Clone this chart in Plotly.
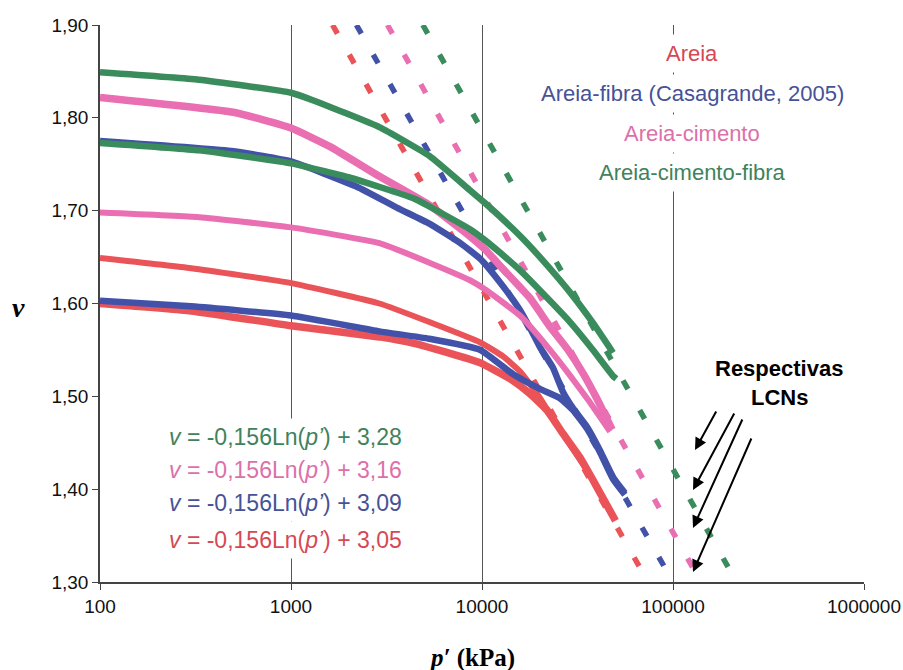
import plotly.graph_objects as go

# ---------------- data ----------------
# Areia (sand) - two tests
areia_a_p = [100, 300, 1000, 2900, 5300, 9800, 12900, 15800, 19400, 25600, 36800, 48000]
areia_a_v = [1.649, 1.638, 1.622, 1.600, 1.580, 1.558, 1.543, 1.527, 1.503, 1.464, 1.415, 1.372]
areia_b_p = [100, 300, 1000, 2900, 4400, 6600, 9800, 14500, 17800, 21900, 26500, 32600, 40000, 50000]
areia_b_v = [1.600, 1.592, 1.576, 1.564, 1.557, 1.547, 1.536, 1.517, 1.503, 1.485, 1.460, 1.434, 1.402, 1.366]

# Areia-fibra (Casagrande, 2005)
fibra_a_p = [100, 500, 1000, 2200, 3600, 5300, 7700, 9800, 12500, 15800, 18000, 20100, 23500, 26500,
             30000, 35500, 41400, 48500, 56000]
fibra_a_v = [1.775, 1.764, 1.753, 1.726, 1.703, 1.686, 1.665, 1.648, 1.622, 1.593, 1.572, 1.553, 1.531, 1.505,
             1.487, 1.467, 1.442, 1.413, 1.396]
fibra_b_p = [100, 300, 1000, 2900, 5300, 9800, 14500, 20100, 25600, 30000, 35500, 41400, 48500, 56000]
fibra_b_v = [1.603, 1.597, 1.587, 1.570, 1.562, 1.550, 1.524, 1.508, 1.498, 1.485, 1.465, 1.440, 1.411, 1.394]

# Areia-cimento
cimento_a_p = [100, 500, 1000, 1600, 2900, 5300, 8000, 10400, 12900, 17800, 22700, 28200, 34000, 40300, 48000]
cimento_a_v = [1.822, 1.806, 1.789, 1.769, 1.737, 1.706, 1.678, 1.658, 1.637, 1.606, 1.575, 1.550, 1.524, 1.496, 1.464]
cimento_b_p = [100, 330, 1000, 2900, 5300, 8650, 10400, 15800, 22700, 29000, 36000, 46800]
cimento_b_v = [1.698, 1.693, 1.682, 1.665, 1.644, 1.625, 1.615, 1.587, 1.550, 1.522, 1.496, 1.462]

# Areia-cimento-fibra
cf_a_p = [100, 330, 1000, 1300, 2900, 5300, 8650, 10400, 15800, 20100, 28900, 38100, 48500]
cf_a_v = [1.849, 1.841, 1.827, 1.819, 1.790, 1.759, 1.722, 1.708, 1.673, 1.650, 1.612, 1.579, 1.547]
cf_b_p = [100, 330, 1000, 2000, 4400, 8650, 10400, 12900, 15800, 20800, 28900, 38100, 48500, 50500]
cf_b_v = [1.773, 1.765, 1.751, 1.736, 1.713, 1.680, 1.668, 1.652, 1.636, 1.611, 1.580, 1.550, 1.522, 1.519]

# LCN lines as drawn in the picture: p' at v = 1.90 and at v = 1.30
lcn_v = [1.90, 1.30]
lcn_areia_p = [1650, 74000]
lcn_fibra_p = [2200, 100000]
lcn_cimento_p = [3200, 140000]
lcn_cf_p = [4900, 215000]

# labels
legend_labels = ["Areia", "Areia-fibra (Casagrande, 2005)", "Areia-cimento", "Areia-cimento-fibra"]
equation_labels = [
    "<i>v</i> = -0,156Ln(<i>p’</i>) + 3,28",
    "<i>v</i> = -0,156Ln(<i>p’</i>) + 3,16",
    "<i>v</i> = -0,156Ln(<i>p’</i>) + 3,09",
    "<i>v</i> = -0,156Ln(<i>p’</i>) + 3,05",
]
x_tickvals = [100, 1000, 10000, 100000, 1000000]
x_ticktext = ["100", "1000", "10000", "100000", "1000000"]
y_tickvals = [1.30, 1.40, 1.50, 1.60, 1.70, 1.80, 1.90]
y_ticktext = ["1,30", "1,40", "1,50", "1,60", "1,70", "1,80", "1,90"]

# ---------------- style ----------------
RED = "rgb(234,84,88)"
BLUE = "rgb(66,82,168)"
PINK = "rgb(233,110,178)"
GREEN = "rgb(58,140,92)"
TXT_RED = "rgb(214,72,84)"
TXT_BLUE = "rgb(70,82,150)"
TXT_PINK = "rgb(220,112,170)"
TXT_GREEN = "rgb(64,130,92)"

fig = go.Figure()

# dashed LCN lines
for p, col in [(lcn_areia_p, RED), (lcn_fibra_p, BLUE), (lcn_cimento_p, PINK), (lcn_cf_p, GREEN)]:
    fig.add_trace(go.Scatter(x=p, y=lcn_v, mode="lines",
                             line=dict(color=col, width=5.5, dash="10px,24px"),
                             hoverinfo="skip", showlegend=False))

# measured curves
curves = [
    (areia_a_p, areia_a_v, RED, 6),
    (areia_b_p, areia_b_v, RED, 7.5),
    (fibra_b_p, fibra_b_v, BLUE, 6.5),
    (fibra_a_p, fibra_a_v, BLUE, 6.5),
    (cimento_b_p, cimento_b_v, PINK, 6),
    (cimento_a_p, cimento_a_v, PINK, 7.5),
    (cf_b_p, cf_b_v, GREEN, 6.5),
    (cf_a_p, cf_a_v, GREEN, 6.5),
]
for p, v, col, w in curves:
    fig.add_trace(go.Scatter(x=p, y=v, mode="lines",
                             line=dict(color=col, width=w, shape="spline", smoothing=0.4),
                             hoverinfo="skip", showlegend=False))

# plot area: x 100..864 px, y 25..582 px
L, R, T, B = 100, 39, 25, 88
PW, PH = 903 - L - R, 670 - T - B


def px(xp):
    return (xp - L) / PW


def py(yp):
    return (670 - B - yp) / PH


ann = []
# legend texts
for lab, col, yp in zip(legend_labels, [TXT_RED, TXT_BLUE, TXT_PINK, TXT_GREEN], [53, 93, 133, 172]):
    ann.append(dict(xref="paper", yref="paper", x=px(692), y=py(yp), text=lab, showarrow=False,
                    xanchor="center", yanchor="middle", bgcolor="white", borderpad=6,
                    font=dict(family="Liberation Sans, Arial", size=22, color=col)))
# equation texts
for lab, col, yp in zip(equation_labels, [TXT_GREEN, TXT_PINK, TXT_BLUE, TXT_RED], [437, 470, 503, 540]):
    ann.append(dict(xref="paper", yref="paper", x=px(285), y=py(yp), text=lab, showarrow=False,
                    xanchor="center", yanchor="middle", bgcolor="white", borderpad=5,
                    font=dict(family="Liberation Sans, Arial", size=23, color=col)))
# Respectivas LCNs
for lab, yp in [("Respectivas", 368), ("LCNs", 397)]:
    ann.append(dict(xref="paper", yref="paper", x=px(779), y=py(yp), text="<b>" + lab + "</b>",
                    showarrow=False, xanchor="center", yanchor="middle",
                    font=dict(family="Liberation Sans, Arial", size=22, color="black")))
# arrows (head, tail offset)
for hx, hy, ax, ay in [(695, 450, 22, -40), (693, 490, 42, -78), (693, 528, 50, -110), (693, 572, 59, -135)]:
    ann.append(dict(xref="paper", yref="paper", x=px(hx), y=py(hy), ax=ax, ay=ay, text="",
                    showarrow=True, arrowhead=2, arrowsize=1.2, arrowwidth=2, arrowcolor="black"))
# axis titles
ann.append(dict(xref="paper", yref="paper", x=px(18), y=py(307), text="<b><i>v</i></b>", showarrow=False,
                xanchor="center", yanchor="middle",
                font=dict(family="Liberation Serif, Times New Roman", size=28, color="black")))
ann.append(dict(xref="paper", yref="paper", x=px(472), y=py(658), text="<b><i>p′</i> (kPa)</b>",
                showarrow=False, xanchor="center", yanchor="middle",
                font=dict(family="Liberation Serif, Times New Roman", size=25, color="black")))

fig.update_layout(
    width=903, height=670,
    margin=dict(l=L, r=R, t=T, b=B, autoexpand=False),
    paper_bgcolor="white", plot_bgcolor="white",
    showlegend=False,
    annotations=ann,
    xaxis=dict(type="log", range=[2, 6], tickvals=x_tickvals, ticktext=x_ticktext,
               showgrid=True, gridcolor="#555555", gridwidth=1, automargin=False,
               showline=True, linecolor="#444444", linewidth=1.5,
               ticks="outside", ticklen=6, tickcolor="#444444",
               tickfont=dict(family="Liberation Sans, Arial", size=19, color="#111111"),
               zeroline=False),
    yaxis=dict(range=[1.30, 1.90], tickvals=y_tickvals, ticktext=y_ticktext, automargin=False,
               showgrid=False, showline=True, linecolor="#444444", linewidth=1.5,
               ticks="outside", ticklen=6, tickcolor="#444444",
               tickfont=dict(family="Liberation Sans, Arial", size=19, color="#111111"),
               zeroline=False),
)

fig.write_html("out.html")
